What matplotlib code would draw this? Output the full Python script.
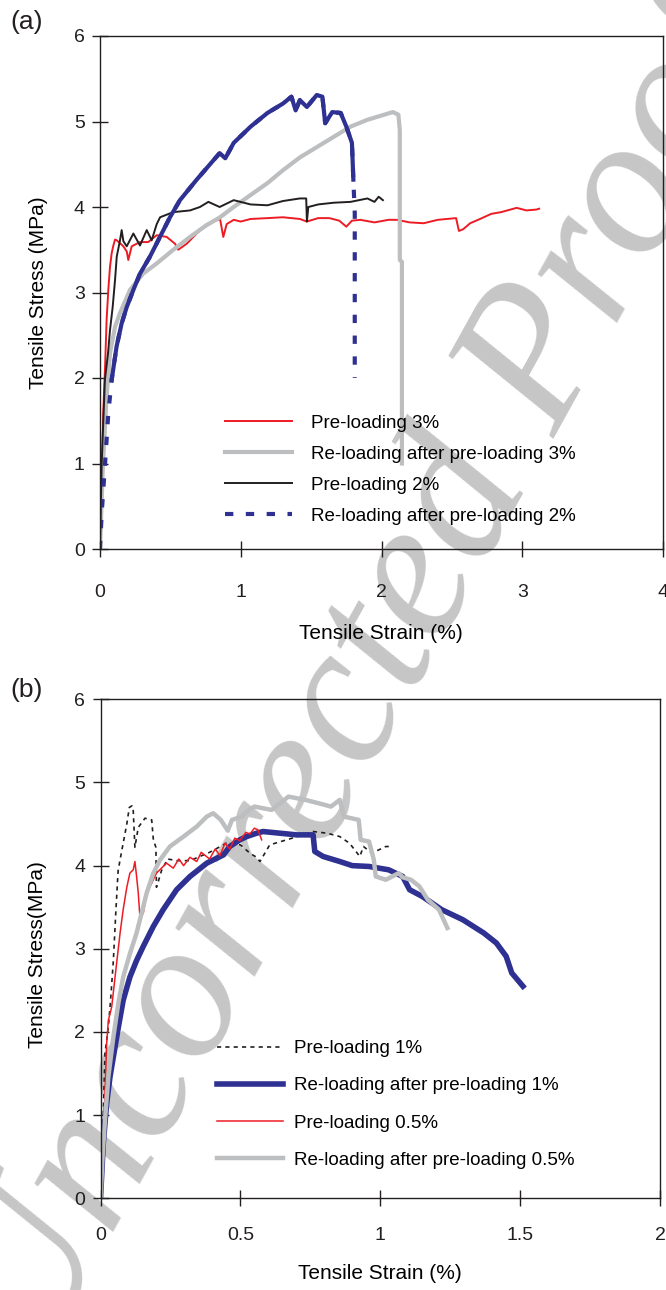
import numpy as np
import matplotlib
matplotlib.use("Agg")
import matplotlib.pyplot as plt

plt.rcParams['font.family'] = ['Liberation Sans', 'DejaVu Sans']

# ---- (a) pre-loading 3% / 2% ----
red_a_x = [0, 0.005, 0.012, 0.023, 0.036, 0.047, 0.059, 0.071, 0.083, 0.095, 0.107, 0.119,
           0.14, 0.166, 0.19, 0.201, 0.225, 0.284, 0.343, 0.403, 0.474, 0.533, 0.556, 0.616,
           0.687, 0.758, 0.853, 0.876, 0.9, 0.95, 1.0, 1.07, 1.19, 1.3, 1.42, 1.47, 1.55, 1.63,
           1.7, 1.75, 1.79, 1.85, 1.95, 2.05, 2.11, 2.2, 2.3, 2.4, 2.53, 2.55, 2.58, 2.63, 2.7,
           2.78, 2.85, 2.96, 3.03, 3.1, 3.12]
red_a_y = [0, 0.3, 0.69, 1.59, 2.13, 2.68, 3.03, 3.3, 3.46, 3.55, 3.62, 3.61,
           3.58, 3.54, 3.48, 3.38, 3.54, 3.59, 3.59, 3.67, 3.65, 3.57, 3.5, 3.57,
           3.69, 3.8, 3.86, 3.65, 3.8, 3.85, 3.83, 3.86, 3.87, 3.88, 3.86, 3.83, 3.87, 3.87,
           3.84, 3.77, 3.84, 3.85, 3.82, 3.85, 3.85, 3.82, 3.81, 3.85, 3.87, 3.72, 3.74, 3.81, 3.86,
           3.92, 3.94, 3.99, 3.96, 3.97, 3.98]

blk_a_x = [0, 0.012, 0.035, 0.057, 0.071, 0.09, 0.107, 0.119, 0.142, 0.154, 0.166, 0.19,
           0.237, 0.284, 0.332, 0.367, 0.403, 0.427, 0.52, 0.64, 0.71, 0.77, 0.85, 0.95,
           1.07, 1.19, 1.3, 1.42, 1.465, 1.47, 1.48, 1.55, 1.66, 1.78, 1.9, 1.95, 1.98, 2.01]
blk_a_y = [0, 1.0, 1.98, 2.29, 2.56, 2.83, 3.15, 3.42, 3.61, 3.73, 3.6, 3.54,
           3.69, 3.55, 3.73, 3.61, 3.8, 3.88, 3.94, 3.96, 4.0, 4.06, 4.0, 4.08,
           4.03, 4.02, 4.07, 4.1, 4.1, 3.83, 4.0, 4.03, 4.05, 4.06, 4.1, 4.06, 4.12, 4.08]

gry_a_x = [0, 0.021, 0.047, 0.071, 0.107, 0.142, 0.213, 0.306, 0.403, 0.521, 0.64, 0.75,
           0.853, 0.95, 1.07, 1.19, 1.3, 1.42, 1.54, 1.66, 1.78, 1.9, 2.0, 2.08, 2.12,
           2.13, 2.13, 2.145, 2.145]
gry_a_y = [0, 1.0, 1.78, 2.29, 2.6, 2.76, 3.03, 3.22, 3.34, 3.5, 3.65, 3.78,
           3.88, 4.0, 4.14, 4.28, 4.43, 4.58, 4.7, 4.82, 4.94, 5.02, 5.07, 5.11, 5.08,
           4.9, 3.38, 3.36, 1.0]

blu_a_x = [0, 0.012, 0.036, 0.059, 0.083, 0.118, 0.154, 0.19, 0.237, 0.284, 0.355, 0.426,
           0.497, 0.568, 0.687, 0.85, 0.89, 0.95, 1.07, 1.19, 1.3, 1.36, 1.39, 1.42, 1.47,
           1.54, 1.58, 1.6, 1.65, 1.71, 1.75, 1.79, 1.8, 1.81, 1.81, 1.81]
blu_a_y = [0, 0.42, 1.0, 1.59, 1.98, 2.37, 2.64, 2.83, 3.03, 3.22, 3.42, 3.65,
           3.88, 4.08, 4.32, 4.63, 4.57, 4.75, 4.94, 5.1, 5.21, 5.29, 5.13, 5.25, 5.17,
           5.31, 5.29, 4.98, 5.11, 5.1, 4.94, 4.75, 4.32, 3.93, 3.26, 2.0]

labels_a = ['Pre-loading 3%', 'Re-loading after pre-loading 3%',
            'Pre-loading 2%', 'Re-loading after pre-loading 2%']

# ---- (b) pre-loading 1% / 0.5% ----
blk_b_x = [0, 0.006, 0.01, 0.016, 0.028, 0.036, 0.046, 0.055, 0.063, 0.076, 0.094, 0.103,
           0.113, 0.117, 0.123, 0.135, 0.159, 0.183, 0.189, 0.198, 0.2, 0.205, 0.218, 0.24,
           0.272, 0.32, 0.39, 0.45, 0.5, 0.534, 0.558, 0.57, 0.605, 0.665, 0.724, 0.76, 0.81,
           0.855, 0.89, 0.927, 0.94, 0.97, 1.02, 1.045]
blk_b_y = [0, 0.5, 1.02, 1.74, 2.06, 2.38, 2.86, 3.46, 3.94, 4.18, 4.5, 4.7,
           4.72, 4.66, 4.22, 4.46, 4.57, 4.55, 4.31, 4.22, 3.74, 3.79, 3.94, 4.08,
           4.06, 4.06, 4.16, 4.27, 4.25, 4.15, 4.1, 4.05, 4.25, 4.31, 4.37, 4.41, 4.39,
           4.35, 4.27, 4.11, 4.23, 4.15, 4.23, 4.23]

red_b_x = [0, 0.01, 0.016, 0.022, 0.028, 0.04, 0.052, 0.07, 0.081, 0.094, 0.105, 0.117,
           0.123, 0.129, 0.135, 0.141, 0.153, 0.165, 0.183, 0.2, 0.236, 0.26, 0.28, 0.297,
           0.32, 0.344, 0.36, 0.39, 0.41, 0.427, 0.445, 0.462, 0.48, 0.498, 0.52, 0.534,
           0.55, 0.563, 0.576]
red_b_y = [0, 0.66, 1.26, 1.86, 2.14, 2.3, 2.66, 3.19, 3.47, 3.74, 3.91, 3.95,
           4.05, 3.87, 3.67, 3.38, 3.43, 3.67, 3.79, 3.91, 4.03, 3.97, 4.08, 4.0,
           4.1, 4.05, 4.16, 4.08, 4.2, 4.12, 4.27, 4.2, 4.33, 4.3, 4.4, 4.38,
           4.45, 4.43, 4.31]

gry_b_x = [0, 0.008, 0.016, 0.028, 0.046, 0.064, 0.081, 0.105, 0.129, 0.147, 0.165, 0.189,
           0.213, 0.248, 0.297, 0.344, 0.38, 0.403, 0.43, 0.455, 0.47, 0.505, 0.53, 0.55,
           0.612, 0.672, 0.733, 0.78, 0.824, 0.855, 0.87, 0.923, 0.93, 0.96, 0.977, 0.984,
           1.02, 1.066, 1.08, 1.11, 1.14, 1.17, 1.21, 1.24]
gry_b_y = [0, 0.54, 0.94, 1.46, 1.94, 2.35, 2.66, 2.94, 3.19, 3.43, 3.67, 3.91,
           4.07, 4.23, 4.35, 4.47, 4.59, 4.63, 4.55, 4.42, 4.55, 4.59, 4.67, 4.71,
           4.67, 4.83, 4.79, 4.75, 4.71, 4.79, 4.59, 4.55, 4.31, 4.29, 4.07, 3.87,
           3.83, 3.91, 3.86, 3.83, 3.75, 3.59, 3.47, 3.25]

blu_b_x = [0, 0.01, 0.022, 0.034, 0.052, 0.064, 0.081, 0.105, 0.129, 0.153, 0.189, 0.224,
           0.272, 0.32, 0.38, 0.44, 0.462, 0.498, 0.523, 0.558, 0.581, 0.641, 0.701, 0.76,
           0.766, 0.796, 0.855, 0.9, 0.96, 1.03, 1.08, 1.105, 1.15, 1.22, 1.295, 1.37, 1.415,
           1.45, 1.47, 1.51]
blu_b_y = [0, 0.66, 1.14, 1.46, 1.82, 2.06, 2.38, 2.66, 2.86, 3.03, 3.27, 3.47,
           3.71, 3.87, 4.03, 4.13, 4.23, 4.31, 4.35, 4.39, 4.41, 4.39, 4.37, 4.37,
           4.17, 4.11, 4.05, 4.0, 3.99, 3.95, 3.87, 3.71, 3.63, 3.47, 3.35, 3.19, 3.07,
           2.91, 2.71, 2.55]

labels_b = ['Pre-loading 1%', 'Re-loading after pre-loading 1%',
            'Pre-loading 0.5%', 'Re-loading after pre-loading 0.5%']

RED = '#ed1c24'
BLUE = '#2e3192'
GRAY = '#bcbec0'
BLACK = '#231f20'

fig = plt.figure(figsize=(6.66, 12.9), dpi=100)
ax1 = fig.add_axes([100 / 666, 1 - 549 / 1290, 563 / 666, 513 / 1290])
ax2 = fig.add_axes([100.5 / 666, 1 - 1198.3 / 1290, 559.5 / 666, 499 / 1290])

# watermark behind everything
fig.text(364 / 666, 1 - 680 / 1290, 'Uncorrected Proof', rotation=61,
         rotation_mode='anchor', ha='center', va='center', fontsize=145,
         family='Liberation Serif', style='italic', color='#c6c6c6', zorder=-10)

for ax in (ax1, ax2):
    ax.patch.set_alpha(0)
    for s in ax.spines.values():
        s.set_linewidth(1.0)
        s.set_color(BLACK)
    ax.tick_params(direction='inout', length=12, width=1.0, color=BLACK,
                   labelsize=14, labelcolor=BLACK)
    ax.tick_params(axis='y', pad=5)

# panel (a)
ax1.plot(red_a_x, red_a_y, color=RED, lw=1.4, label=labels_a[0])
ax1.plot(gry_a_x, gry_a_y, color=GRAY, lw=3.0, label=labels_a[1])
ax1.plot(blk_a_x, blk_a_y, color=BLACK, lw=1.4, label=labels_a[2])
ax1.plot(blu_a_x, blu_a_y, color=BLUE, lw=3.0, ls=(0, (2, 3)), label=labels_a[3])
ax1.plot(blu_a_x[4:33], blu_a_y[4:33], color=BLUE, lw=3.0)
ax1.set_xlim(0, 4)
ax1.set_ylim(0, 6)
ax1.set_xticks([0, 1, 2, 3, 4])
ax1.set_yticks(range(7))
ax1.tick_params(axis='x', pad=19.5)
ax1.set_xlabel('Tensile Strain (%)', fontsize=15, va='center')
ax1.xaxis.set_label_coords(0.499, -0.164)
ax1.set_ylabel('Tensile Stress (MPa)', fontsize=15, va='center')
ax1.yaxis.set_label_coords(-0.110, 0.499)
ax1.legend(loc='upper left', bbox_to_anchor=(0.222, 0.262), frameon=False,
           borderpad=0, borderaxespad=0, fontsize=13.5, handlelength=3.6,
           handletextpad=1.0, labelspacing=0.74)

# panel (b)
ax2.plot(blk_b_x, blk_b_y, color=BLACK, lw=1.2, ls=(0, (2.5, 2.5)), label=labels_b[0])
ax2.plot(blu_b_x, blu_b_y, color=BLUE, lw=4.0, label=labels_b[1])
ax2.plot(red_b_x, red_b_y, color=RED, lw=1.1, label=labels_b[2])
ax2.plot(gry_b_x, gry_b_y, color=GRAY, lw=3.2, label=labels_b[3])
ax2.set_xlim(0, 2)
ax2.set_ylim(0, 6)
ax2.set_xticks([0, 0.5, 1, 1.5, 2])
ax2.set_xticklabels(['0', '0.5', '1', '1.5', '2'])
ax2.set_yticks(range(7))
ax2.tick_params(axis='x', pad=15)
ax2.set_xlabel('Tensile Strain (%)', fontsize=15, va='center')
ax2.xaxis.set_label_coords(0.499, -0.150)
ax2.set_ylabel('Tensile Stress(MPa)', fontsize=15, va='center')
ax2.yaxis.set_label_coords(-0.112, 0.488)
ax2.legend(loc='upper left', bbox_to_anchor=(0.208, 0.317), frameon=False,
           borderpad=0, borderaxespad=0, fontsize=13.5, handlelength=3.5,
           handletextpad=0.6, labelspacing=1.07)

fig.text(10 / 666, 1 - 22 / 1290, '(a)', fontsize=19, va='center', color=BLACK)
fig.text(10 / 666, 1 - 690 / 1290, '(b)', fontsize=19, va='center', color=BLACK)

fig.savefig('out.png', dpi=100)
